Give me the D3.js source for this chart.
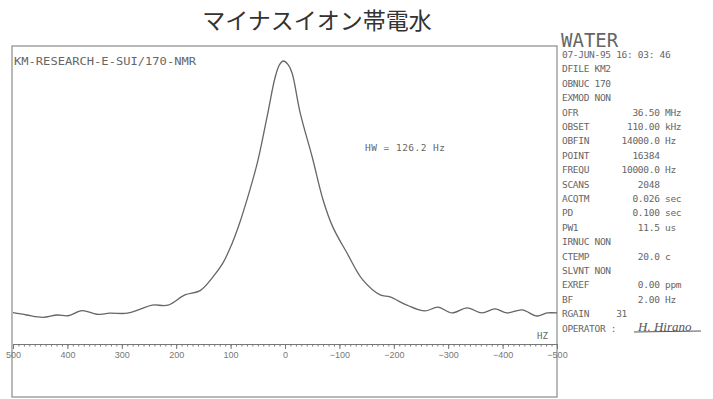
<!DOCTYPE html>
<html lang="ja">
<head>
<meta charset="UTF-8">
<title>マイナスイオン帯電水</title>
<script src="https://d3js.org/d3.v7.min.js"></script>
<style>
    body { margin: 0; background: #fff; }
    svg { display: block; }
    .mono { font-family: "DejaVu Sans Mono", monospace; fill: #666; }
    .axis text { font-family: "Liberation Sans", Arial, sans-serif; font-size: 9px; fill: #777; }
    .axis line, .axis path { stroke: #777; }
</style>
</head>
<body>
<svg id="chart"></svg>
<script>
// spectrum: frequency (Hz) and relative intensity (peak = 100)
var hz = [500, 475, 445, 419, 399, 373, 346, 322, 290, 267, 244, 215, 184, 156, 132, 114, 98, 84, 70, 51, 33, 18, 10, 3,
          -6, -13, -28, -50, -70, -88, -114, -143, -175, -193, -224, -257, -281, -307, -335, -362, -386, -408, -436, -463, -482, -500];
var intensity = [0.9, 0, -0.9, 0, -0.3, 1.7, 0.3, 0.7, 0.7, 2.2, 3.9, 3.9, 7.9, 9.6, 15.1, 20.5, 27.8, 35.8, 45.3, 59.8, 78, 93.7, 98.6, 100,
                 98.5, 95.3, 79.5, 62.2, 45.3, 34.6, 24.4, 13.8, 7.9, 7.1, 3.9, 1.6, 3.1, 0.8, 2.8, 0.8, 2.4, 0.8, 2.0, -0.4, 0.8, 0.8];

var majorTicks = [500, 400, 300, 200, 100, 0, -100, -200, -300, -400, -500];

var paramLabels = ["DFILE", "OBNUC", "EXMOD", "OFR", "OBSET", "OBFIN", "POINT", "FREQU", "SCANS", "ACQTM", "PD", "PW1",
                   "IRNUC", "CTEMP", "SLVNT", "EXREF", "BF", "RGAIN"];
var paramValues = ["KM2", "170", "NON", "36.50", "110.00", "14000.0", "16384", "10000.0", "2048", "0.026", "0.100", "11.5",
                   "NON", "20.0", "NON", "0.00", "2.00", "31"];
var paramUnits = ["", "", "", "MHz", "kHz", "Hz", "", "Hz", "", "sec", "sec", "us", "", "c", "", "ppm", "Hz", ""];

var width = 713, height = 399;
var svg = d3.select("#chart").attr("width", width).attr("height", height);

var x = d3.scaleLinear().domain([500, -500]).range([13, 557]);
var y = d3.scaleLinear().domain([0, 100]).range([315, 61]);

// title
svg.append("text")
    .attr("x", 317).attr("y", 29)
    .attr("text-anchor", "middle")
    .style("font-family", "'Noto Sans CJK JP', sans-serif")
    .style("font-size", "23px")
    .style("fill", "#333")
    .text("マイナスイオン帯電水");

// frame
svg.append("rect")
    .attr("x", 12).attr("y", 46)
    .attr("width", 545).attr("height", 351)
    .attr("fill", "none")
    .attr("stroke", "#858c8a")
    .attr("stroke-width", 1.2);

svg.append("text").attr("class", "mono")
    .attr("x", 14).attr("y", 65)
    .attr("textLength", 182)
    .attr("lengthAdjust", "spacingAndGlyphs")
    .style("font-size", "10px")
    .text("KM-RESEARCH-E-SUI/170-NMR");

// spectrum
var line = d3.line()
    .x(function(d, i) { return x(hz[i]); })
    .y(function(d) { return y(d); })
    .curve(d3.curveCatmullRom.alpha(0.5));

svg.append("path")
    .datum(intensity)
    .attr("d", line)
    .attr("fill", "none")
    .attr("stroke", "#666")
    .attr("stroke-width", 1.3);

svg.append("text").attr("class", "mono")
    .attr("x", 365).attr("y", 151)
    .attr("textLength", 80)
    .style("font-size", "9.5px")
    .text("HW = 126.2 Hz");

// axis
var axisY = 344;
svg.append("g").attr("class", "axis")
    .attr("transform", "translate(0," + axisY + ")")
    .call(d3.axisBottom(x).tickValues(d3.range(-500, 501, 10)).tickSize(2.5).tickFormat(""))
    .call(function(g) { g.select(".domain").remove(); });

svg.append("g").attr("class", "axis")
    .attr("transform", "translate(0," + axisY + ")")
    .call(d3.axisBottom(x).tickValues(majorTicks).tickSize(5).tickPadding(3).tickSizeOuter(0))
    .call(function(g) { g.select(".domain").attr("stroke-width", 1.1); });

svg.append("text").attr("class", "mono")
    .attr("x", 537).attr("y", 339)
    .style("font-size", "9px")
    .text("HZ");

// parameter panel
svg.append("text").attr("class", "mono")
    .attr("x", 561).attr("y", 47)
    .style("font-size", "19px")
    .text("WATER");

var rows = ["07-JUN-95 16: 03: 46"];
paramLabels.forEach(function(lab, i) {
    var v = paramValues[i];
    var s;
    if (paramUnits[i] === "" && (v === "NON" || v === "KM2" || v === "170")) {
        s = lab + " " + v;
    } else if (lab === "RGAIN") {
        s = lab.padEnd(10) + v;
    } else {
        s = lab.padEnd(18 - v.length) + v + (paramUnits[i] ? " " + paramUnits[i] : "");
    }
    rows.push(s);
});
rows.push("OPERATOR :");

svg.append("g").selectAll("text")
    .data(rows)
    .enter().append("text")
    .attr("class", "mono")
    .attr("x", 562)
    .attr("y", function(d, i) { return 58 + i * 14.4; })
    .style("font-size", "9.5px")
    .style("letter-spacing", "-0.3px")
    .style("white-space", "pre")
    .text(function(d) { return d; });

// operator signature
svg.append("text")
    .attr("x", 638).attr("y", 331)
    .style("font-family", "'Liberation Serif', serif")
    .style("font-style", "italic")
    .style("font-size", "13px")
    .style("fill", "#555")
    .text("H. Hirano");
svg.append("line")
    .attr("x1", 634).attr("x2", 701)
    .attr("y1", 332).attr("y2", 331)
    .attr("stroke", "#555").attr("stroke-width", 1);
</script>
</body>
</html>
